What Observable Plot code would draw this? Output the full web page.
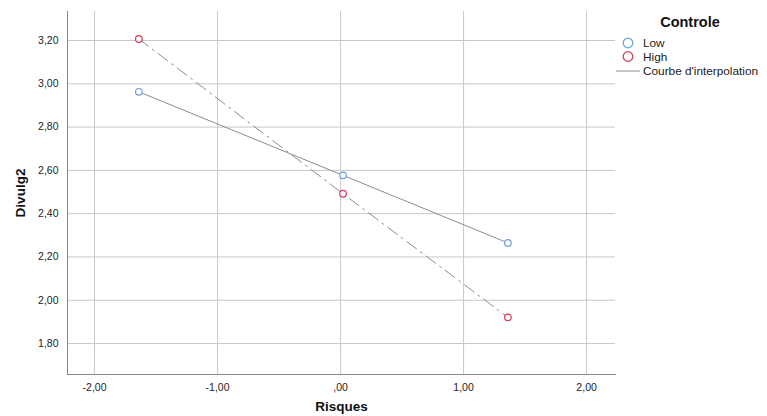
<!DOCTYPE html>
<html>
<head>
<meta charset="utf-8">
<script src="https://cdn.jsdelivr.net/npm/d3@7"></script>
<script src="https://cdn.jsdelivr.net/npm/@observablehq/plot@0.6"></script>
<style>
  html, body { margin: 0; padding: 0; background: #fff; }
  #wrap { position: relative; width: 767px; height: 416px; font-family: "Liberation Sans", Arial, sans-serif; }
  #legend { position: absolute; left: 600px; top: 0; }
  g[aria-label="x-axis label"] text, g[aria-label="y-axis label"] text { font-weight: bold; font-size: 13.5px; fill: #111; }
</style>
</head>
<body>
<div id="wrap"></div>
<script>
// Data
const risques = [-1.64, 0.02, 1.36];
const lowValues = [2.963, 2.577, 2.265];
const highValues = [3.207, 2.492, 1.921];
const groups = ["Low", "High"];
const groupColors = ["#6b9fde", "#dc3a57"];
const groupDash = [null, "12,5,2,5"];
const xTicks = [-2, -1, 0, 1, 2];
const yTicks = [1.8, 2.0, 2.2, 2.4, 2.6, 2.8, 3.0, 3.2];
const xTitle = "Risques";
const yTitle = "Divulg2";
const legendTitle = "Controle";
const lineLegendLabel = "Courbe d'interpolation";

const fmt = d => {
  let s = Math.abs(d).toFixed(2).replace(".", ",").replace(/^0/, "");
  return (d < 0 ? "-" : "") + s;
};

const rows = [];
risques.forEach((x, i) => {
  rows.push({group: "Low", x, y: lowValues[i]});
  rows.push({group: "High", x, y: highValues[i]});
});

const lineGray = "#8c8c8c";
const marks = [
  Plot.gridX(xTicks, {stroke: "#c8c8c8", strokeOpacity: 1}),
  Plot.gridY(yTicks, {stroke: "#c8c8c8", strokeOpacity: 1}),
  Plot.frame({anchor: "left", stroke: "#888"}),
  Plot.frame({anchor: "bottom", stroke: "#888"}),
  Plot.axisX(xTicks, {tickSize: 0, tickPadding: 9, tickFormat: fmt, label: xTitle, labelArrow: "none", labelAnchor: "center", labelOffset: 36, fill: "#222"}),
  Plot.axisY(yTicks, {tickSize: 0, tickPadding: 9, tickFormat: fmt, label: yTitle, labelArrow: "none", labelAnchor: "center", labelOffset: 52, fill: "#222"})
];
groups.forEach((g, i) => {
  marks.push(Plot.line(rows.filter(r => r.group === g), {x: "x", y: "y", stroke: lineGray, strokeWidth: 1, strokeDasharray: groupDash[i] || undefined}));
});
groups.forEach((g, i) => {
  marks.push(Plot.dot(rows.filter(r => r.group === g), {x: "x", y: "y", r: 3.3, stroke: groupColors[i], strokeWidth: 1.2, fill: "white"}));
});

const chart = Plot.plot({
  width: 767,
  height: 416,
  marginLeft: 67,
  marginRight: 152,
  marginTop: 11,
  marginBottom: 42,
  style: {fontFamily: "'Liberation Sans', Arial, sans-serif", fontSize: "10.5px", background: "white", color: "#222"},
  x: {domain: [-2.22, 2.235]},
  y: {domain: [1.657, 3.334]},
  marks
});
document.getElementById("wrap").appendChild(chart);

// Legend (right side)
const ns = "http://www.w3.org/2000/svg";
const leg = document.createElementNS(ns, "svg");
leg.setAttribute("id", "legend");
leg.setAttribute("width", 167);
leg.setAttribute("height", 90);
leg.style.fontFamily = "'Liberation Sans', Arial, sans-serif";
let html = `<text x="90" y="27" text-anchor="middle" font-weight="bold" font-size="14.5" fill="#111">${legendTitle}</text>`;
groups.forEach((g, i) => {
  const cy = 43 + i * 13.5;
  html += `<circle cx="28" cy="${cy}" r="4.8" fill="none" stroke="${groupColors[i]}" stroke-width="1.3"/>`;
  html += `<text x="43" y="${cy + 4}" font-size="11.8" fill="#222">${g}</text>`;
});
html += `<line x1="16" x2="40" y1="71" y2="71" stroke="${lineGray}" stroke-width="1"/>`;
html += `<text x="43" y="75" font-size="11.8" fill="#222">${lineLegendLabel}</text>`;
leg.innerHTML = html;
document.getElementById("wrap").appendChild(leg);
</script>
</body>
</html>
